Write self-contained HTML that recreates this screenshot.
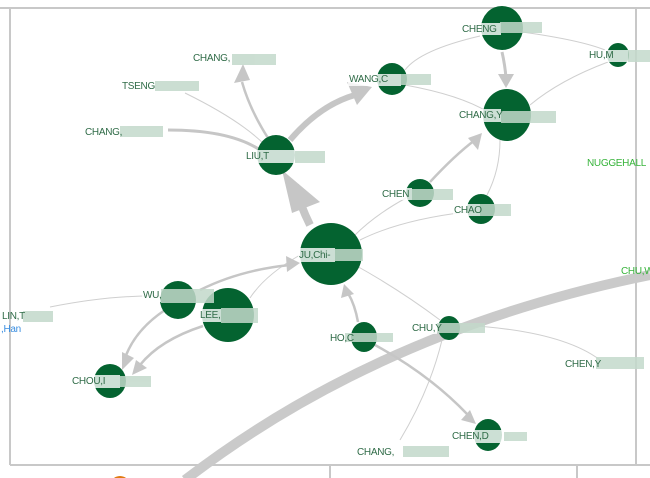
<!DOCTYPE html>
<html><head><style>
body{margin:0;background:#fff;}
svg{display:block;font-family:"Liberation Sans",sans-serif;}
.l{font-size:10px;fill:#2f6b47;letter-spacing:-0.3px}
.w{fill:#fff;opacity:.8}
.b{fill:#c3d9cb;opacity:.85}
</style></head><body>
<svg width="650" height="478" viewBox="0 0 650 478">
<rect width="650" height="478" fill="#fff"/>
<g stroke="#c8c8c8" stroke-width="2" fill="none">
<line x1="0" y1="8" x2="650" y2="8"/>
<line x1="10" y1="8" x2="10" y2="465"/>
<line x1="636" y1="8" x2="636" y2="465"/>
<line x1="10" y1="465" x2="650" y2="465"/>
<line x1="330" y1="465" x2="330" y2="478"/>
<line x1="577" y1="465" x2="577" y2="478"/>
</g>
<circle cx="120" cy="486" r="10" fill="#e07a10"/>
<circle cx="402" cy="484" r="6" fill="#7a4ac0"/>
<path d="M185,480 Q380,330 650,275" stroke="#cacaca" stroke-width="10" fill="none"/>
<g stroke="#cfcfcf" fill="none" stroke-width="1">
<path d="M185,93 Q240,120 265,145"/>
<path d="M480,36 Q420,50 405,70"/>
<path d="M522,32 Q580,40 605,50"/>
<path d="M608,62 Q560,80 530,105"/>
<path d="M405,85 Q460,95 488,112"/>
<path d="M487,195 Q500,170 500,140"/>
<path d="M406,198 Q375,215 355,235"/>
<path d="M466,212 Q400,220 360,240"/>
<path d="M50,307 Q110,295 160,296"/>
<path d="M250,298 Q265,275 300,255"/>
<path d="M440,320 Q400,290 355,265"/>
<path d="M442,340 Q430,390 400,440"/>
<path d="M460,325 Q560,330 600,360"/>
</g>
<g stroke="#c6c6c6" fill="none">
<path d="M268,138 Q250,110 242,82" stroke-width="2.5"/>
<path d="M168,130 Q230,130 260,150" stroke-width="3"/>
<path d="M290,140 Q320,105 355,95" stroke-width="6"/>
<path d="M310,225 Q300,205 295,185" stroke-width="8"/>
<path d="M502,52 Q505,65 506,78" stroke-width="3"/>
<path d="M430,182 Q455,155 475,140" stroke-width="2.5"/>
<path d="M200,290 Q240,270 290,265" stroke-width="2.5"/>
<path d="M165,310 Q135,330 125,358" stroke-width="2.5"/>
<path d="M203,326 Q160,340 140,365" stroke-width="2.5"/>
<path d="M358,322 Q355,305 348,293" stroke-width="2.5"/>
<path d="M375,345 Q430,375 468,415" stroke-width="2.5"/>
</g>
<g fill="#c6c6c6">
<polygon points="243,64 234,83 250,80"/>
<polygon points="372,87 347,82 357,105"/>
<polygon points="282,170 292,213 320,202"/>
<polygon points="506,88 498,74 514,74"/>
<polygon points="482,133 468,138 478,150"/>
<polygon points="300,263 286,256 287,272"/>
<polygon points="122,370 122,352 134,358"/>
<polygon points="132,375 136,360 147,368"/>
<polygon points="344,284 341,298 354,294"/>
<polygon points="476,424 470,410 461,420"/>
</g>
<g fill="#046330">
<ellipse cx="502" cy="28" rx="21" ry="22"/>
<ellipse cx="618" cy="55" rx="11" ry="12"/>
<ellipse cx="392" cy="79" rx="15" ry="16"/>
<ellipse cx="507" cy="115" rx="24" ry="26"/>
<ellipse cx="276" cy="155" rx="19" ry="20"/>
<ellipse cx="420" cy="193" rx="14" ry="14"/>
<ellipse cx="481" cy="209" rx="14" ry="15"/>
<ellipse cx="331" cy="254" rx="31" ry="31"/>
<ellipse cx="178" cy="300" rx="18" ry="19"/>
<ellipse cx="228" cy="315" rx="26" ry="27"/>
<ellipse cx="364" cy="337" rx="13" ry="15"/>
<ellipse cx="449" cy="328" rx="11" ry="12"/>
<ellipse cx="110" cy="381" rx="16" ry="17"/>
<ellipse cx="488" cy="435" rx="14" ry="16"/>
</g>
<g class="w">
<rect x="461" y="23" width="40" height="12"/>
<rect x="588" y="50" width="40" height="12"/>
<rect x="348" y="74" width="53" height="12"/>
<rect x="458" y="109" width="43" height="13"/>
<rect x="245" y="150" width="50" height="13"/>
<rect x="381" y="188" width="31" height="12"/>
<rect x="453" y="204" width="27" height="12"/>
<rect x="298" y="248" width="37" height="14"/>
<rect x="142" y="290" width="19" height="12"/>
<rect x="199" y="309" width="22" height="13"/>
<rect x="329" y="332" width="16" height="12"/>
<rect x="411" y="322" width="26" height="12"/>
<rect x="71" y="375" width="49" height="13"/>
<rect x="451" y="430" width="53" height="13"/>
</g>
<g class="b">
<rect x="500" y="22" width="42" height="11"/>
<rect x="628" y="50" width="22" height="12"/>
<rect x="401" y="74" width="30" height="11"/>
<rect x="501" y="111" width="55" height="12"/>
<rect x="295" y="151" width="30" height="12"/>
<rect x="232" y="54" width="44" height="11"/>
<rect x="155" y="81" width="44" height="10"/>
<rect x="120" y="126" width="43" height="11"/>
<rect x="412" y="189" width="41" height="11"/>
<rect x="480" y="204" width="31" height="12"/>
<rect x="335" y="249" width="28" height="12"/>
<rect x="161" y="289" width="53" height="14"/>
<rect x="221" y="308" width="37" height="15"/>
<rect x="23" y="311" width="30" height="11"/>
<rect x="345" y="333" width="48" height="9"/>
<rect x="437" y="323" width="48" height="10"/>
<rect x="120" y="376" width="31" height="11"/>
<rect x="596" y="357" width="48" height="12"/>
<rect x="403" y="446" width="46" height="11"/>
<rect x="504" y="432" width="23" height="9"/>
</g>
<g class="l">
<text x="462" y="32">CHENG</text>
<text x="589" y="58">HU,M</text>
<text x="349" y="82">WANG,C</text>
<text x="459" y="118">CHANG,Y</text>
<text x="246" y="159">LIU,T</text>
<text x="193" y="61">CHANG,</text>
<text x="122" y="89">TSENG</text>
<text x="85" y="135">CHANG,</text>
<text x="382" y="197">CHEN</text>
<text x="454" y="213">CHAO</text>
<text x="299" y="258">JU,Chi-</text>
<text x="143" y="298">WU,</text>
<text x="200" y="318">LEE,</text>
<text x="2" y="319">LIN,T</text>
<text x="330" y="341">HO,C</text>
<text x="412" y="331">CHU,Y</text>
<text x="72" y="384">CHOU,I</text>
<text x="565" y="367">CHEN,Y</text>
<text x="357" y="455">CHANG,</text>
<text x="452" y="439">CHEN,D</text>
<text x="587" y="166" style="fill:#36b33a">NUGGEHALL</text>
<text x="621" y="274" style="fill:#36b33a">CHU,W</text>
<text x="1" y="332" style="fill:#3a8ee0">,Han</text>
</g>
</svg>
</body></html>
